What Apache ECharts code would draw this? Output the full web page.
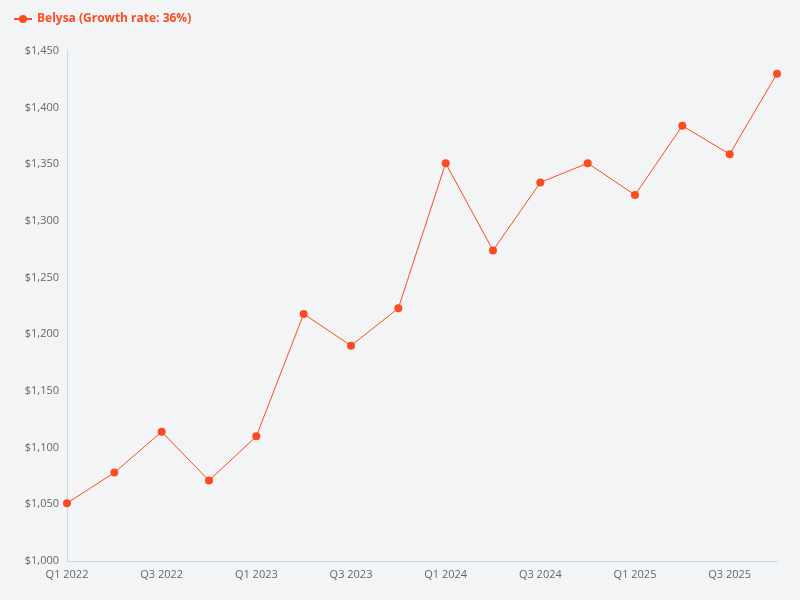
<!DOCTYPE html><html><head><meta charset="utf-8"><script src="https://cdn.jsdelivr.net/npm/echarts@6/dist/echarts.min.js"></script>
<style>html,body{margin:0;background:#f3f4f6}#c{width:800px;height:600px}</style></head><body><div id="c"></div><script>
const categories=["Q1 2022","Q2 2022","Q3 2022","Q4 2022","Q1 2023","Q2 2023","Q3 2023","Q4 2023","Q1 2024","Q2 2024","Q3 2024","Q4 2024","Q1 2025","Q2 2025","Q3 2025","Q4 2025"];
const values=[1051,1078,1114,1071,1110,1218,1190,1223,1351,1274,1334,1351,1323,1384,1359,1430];
const seriesName="Belysa (Growth rate: 36%)";
const c=echarts.init(document.getElementById('c'));
c.setOption({backgroundColor:'#f3f4f6',
legend:{left:8,top:8,itemWidth:18,itemHeight:10,textStyle:{color:'#fc4c1f',fontWeight:'bold',fontSize:12,fontFamily:'Open Sans'}},
grid:{left:67,right:23,top:51,bottom:39},
xAxis:{type:'category',data:categories,boundaryGap:false,axisTick:{show:false},axisLine:{lineStyle:{color:'#c9d6e3'}},axisLabel:{interval:1,color:'#666',fontSize:11,fontFamily:'Open Sans'}},
yAxis:{type:'value',min:1000,max:1450,interval:50,splitLine:{show:false},axisLine:{show:true,lineStyle:{color:'#c9d6e3'}},axisLabel:{color:'#666',fontSize:11,fontFamily:'Open Sans',formatter:v=>'$'+v.toLocaleString('en-US')}},
series:[{name:seriesName,type:'line',data:values,color:'#fc4c1f',symbol:'circle',symbolSize:8,lineStyle:{width:1}}]});
</script></body></html>
